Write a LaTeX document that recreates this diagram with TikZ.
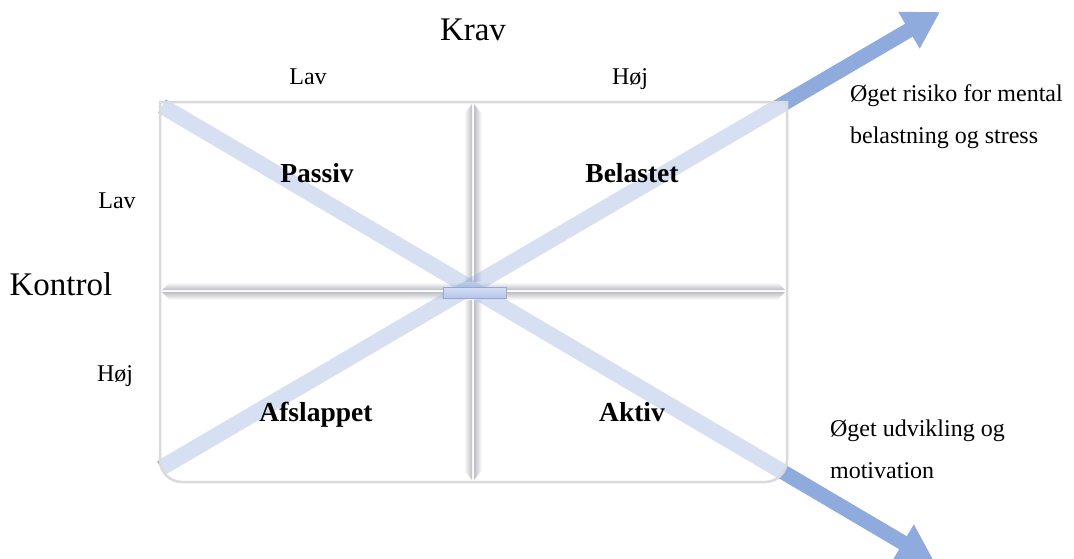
\documentclass[tikz,border=0pt]{standalone}
\usepackage{fontspec}
\setmainfont{Liberation Serif}
\newfontfamily\tnr{Liberation Serif}
\usetikzlibrary{arrows.meta}
\definecolor{arrowblue}{RGB}{143,170,220}
\definecolor{boxline}{RGB}{218,218,222}
\definecolor{divgray}{RGB}{190,190,198}
\definecolor{centerblue}{RGB}{184,198,236}
\definecolor{centeredge}{RGB}{150,168,215}
\begin{document}
\begin{tikzpicture}[x=1pt,y=-1pt,
  bandarrow/.style={draw=arrowblue,line width=15pt,-{Triangle[length=36pt,width=40pt]}},
  band/.style={draw=arrowblue,draw opacity=0.36,line width=16pt},
  divA/.style={left color=white,right color=divgray},
  divB/.style={left color=divgray,right color=white},
  divC/.style={top color=white,bottom color=divgray},
  divD/.style={top color=divgray,bottom color=white},
  big/.style={font=\tnr\fontsize{33}{36}\selectfont,anchor=base},
  small/.style={font=\tnr\fontsize{33}{36}\selectfont,anchor=base,scale=0.7273},
  quad/.style={font=\tnr\fontsize{33}{36}\selectfont\bfseries,anchor=base,scale=0.8333},
  note/.style={font=\tnr\fontsize{33}{57.75}\selectfont,align=left,anchor=north west,inner sep=0pt,scale=0.7273}]
\useasboundingbox (0,0) rectangle (1074,558);
\coordinate (ul) at (162,106);
\coordinate (ll) at (161,468);
\coordinate (tipA) at (940,12);
\coordinate (tipB) at (934,561);
% solid arrows
\draw[bandarrow] (ll) -- (tipA);
\draw[bandarrow] (ul) -- (tipB);
% box
\def\boxpath{(160,102) -- (787,102) -- (787,460) arc[start angle=0,end angle=90,radius=22] -- (182,482) arc[start angle=90,end angle=180,radius=22] -- cycle}
\fill[white] \boxpath;
% dividers
\shade[divA] (464,114) -- (472,104) -- (472,480) -- (464,470) -- cycle;
\shade[divB] (474,104) -- (482,114) -- (482,470) -- (474,480) -- cycle;
\shade[divC] (170,282) -- (777,282) -- (785,290) -- (162,290) -- cycle;
\shade[divD] (162,292) -- (785,292) -- (777,300) -- (170,300) -- cycle;
% light bands inside box
\begin{scope}
\clip \boxpath;
\draw[band] (ll) -- (tipA);
\draw[band] (ul) -- (tipB);
\end{scope}
\draw[boxline,line width=2.5pt] \boxpath;
% centre
\shade[top color=centerblue!60,bottom color=centerblue,draw=centeredge,line width=0.8pt] (443,287) rectangle (506,298);
% texts
\node[big] (krav) at (473,40) {Krav};
\node[big] (kontrol) at (61,295) {Kontrol};
\node[small] (lavtop) at (308,84) {Lav};
\node[small] (hojtop) at (630,84) {Høj};
\node[small] (lavleft) at (117,208) {Lav};
\node[small] (hojleft) at (115,381) {Høj};
\node[quad] (passiv) at (317,182) {Passiv};
\node[quad] (belastet) at (632,182) {Belastet};
\node[quad] (afslappet) at (316,421) {Afslappet};
\node[quad] (aktiv) at (632,421) {Aktiv};
\node[note] (risk) at (850,84) {Øget risiko for mental\\belastning og stress};
\node[note] (udv) at (830,420) {Øget udvikling og\\motivation};
\end{tikzpicture}
\end{document}
